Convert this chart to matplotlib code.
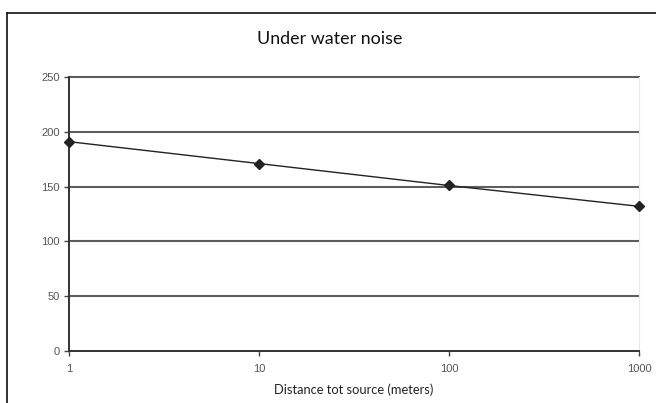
import matplotlib
matplotlib.use('Agg')
import matplotlib.pyplot as plt
from matplotlib.lines import Line2D
from matplotlib.ticker import FixedLocator, NullLocator

# data
distance = [1, 10, 100, 1000]
noise = [191, 171, 151, 132]
y_ticks = [0, 50, 100, 150, 200, 250]
x_ticks = [1, 10, 100, 1000]
x_labels = ['1', '10', '100', '1000']

plt.rcParams['font.family'] = ['Liberation Sans', 'DejaVu Sans']

fig = plt.figure(figsize=(6.56, 4.03), dpi=100)
ax = fig.add_axes([0.105, 0.129, 0.869, 0.680])

ax.set_xscale('log')
ax.set_xlim(1, 1000)
ax.set_ylim(0, 250)

# horizontal gridlines
for yv in y_ticks[1:]:
    ax.axhline(yv, color='#5e5e5e', linewidth=1.5, zorder=1, clip_on=False)

ax.plot(distance, noise, color='#222222', linewidth=1.0, marker='D',
        markersize=5.5, markerfacecolor='#222222', markeredgecolor='#222222',
        zorder=3, clip_on=False)

ax.xaxis.set_major_locator(FixedLocator(x_ticks))
ax.xaxis.set_minor_locator(NullLocator())
ax.set_xticklabels(x_labels)
ax.set_yticks(y_ticks)

ax.tick_params(axis='both', colors='#444444', labelsize=8, length=3.5,
               width=1.0, direction='out', pad=3)
ax.tick_params(axis='y', labelcolor='#555555')
ax.tick_params(axis='x', labelcolor='#555555', pad=6)

ax.spines['top'].set_visible(False)
ax.spines['right'].set_color('#e8e8e8')
ax.spines['right'].set_linewidth(0.8)
ax.spines['left'].set_color('#333333')
ax.spines['left'].set_linewidth(1.4)
ax.spines['bottom'].set_color('#333333')
ax.spines['bottom'].set_linewidth(1.4)

ax.set_xlabel('Distance tot source (meters)', fontsize=9.3, color='#222222',
              labelpad=7, family=['Lato', 'DejaVu Sans'])

fig.text(0.503, 0.902, 'Under water noise', ha='center', va='center',
         fontsize=12.9, color='#111111', family=['Lato', 'DejaVu Sans'])

# outer chart border (cropped at right and bottom)
fig.add_artist(Line2D([0.0107, 0.0107], [0.0, 0.9685], transform=fig.transFigure,
                      color='#111111', linewidth=1.2))
fig.add_artist(Line2D([0.0107, 1.0], [0.9685, 0.9685], transform=fig.transFigure,
                      color='#111111', linewidth=1.2))

fig.savefig('out.png', dpi=100)
